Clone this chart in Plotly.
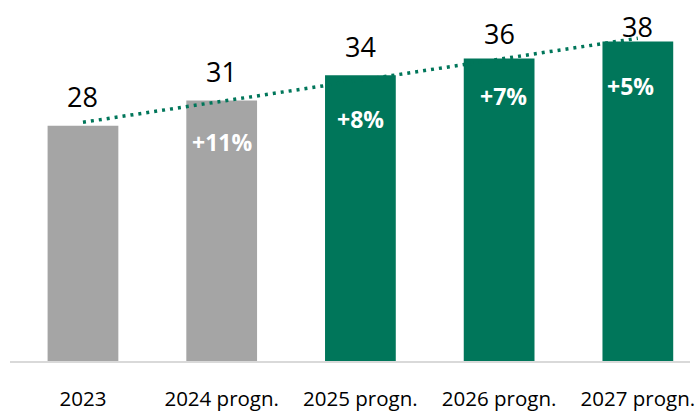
import numpy as np
import plotly.graph_objects as go

categories = ["2023", "2024 progn.", "2025 progn.", "2026 progn.", "2027 progn."]
values = [28, 31, 34, 36, 38]
growth = ["", "+11%", "+8%", "+7%", "+5%"]
is_forecast = [False, False, True, True, True]

GRAY = "#A5A5A5"
GREEN = "#00765A"
FONT = "Open Sans"

# value labels sit above the bars; the last ones were nudged down in the original
label_shift = [29, 29, 29, 25, 15]
growth_shift = [-42, -42, -44, -38, -44]
growth_xshift = [0, 0, 0, 4, -7]

x = list(range(len(categories)))
slope, intercept = np.polyfit(x, values, 1)
trend = [slope * i + intercept for i in x]

fig = go.Figure()
fig.add_trace(go.Bar(
    x=x, y=values, width=0.51,
    marker=dict(color=[GREEN if f else GRAY for f in is_forecast], line_width=0),
    hoverinfo="skip",
))
fig.add_trace(go.Scatter(
    x=x, y=trend, mode="lines",
    line=dict(color=GREEN, width=3.5, dash="3px,5px"),
    hoverinfo="skip",
))

for i, v in enumerate(values):
    fig.add_annotation(
        x=i, y=v, text=str(v), showarrow=False, yshift=label_shift[i],
        font=dict(family=FONT, size=27, color="#000000"),
    )
    if growth[i]:
        fig.add_annotation(
            x=i, y=v, text=f"<b>{growth[i]}</b>", showarrow=False,
            yshift=growth_shift[i], xshift=growth_xshift[i],
            font=dict(family=FONT, size=23, color="#FFFFFF"),
        )

fig.update_layout(
    width=695, height=412,
    margin=dict(l=10, r=0, t=10, b=47),
    plot_bgcolor="white", paper_bgcolor="white",
    showlegend=False, bargap=0.49,
    xaxis=dict(
        tickmode="array", tickvals=x, ticktext=categories,
        range=[-0.526, 4.376], showgrid=False, zeroline=False,
        showline=True, linecolor="#D9D9D9", linewidth=2,
        ticks="", ticklabelstandoff=18, ticklabeloverflow="allow",
        tickfont=dict(family=FONT, size=20.5, color="#000000"),
    ),
    yaxis=dict(range=[0, 41.76], visible=False, showgrid=False, zeroline=False),
)

fig.write_html(
    "out.html",
    config={"displayModeBar": False},
    post_script="document.body.style.margin='0';document.body.style.overflow='hidden';",
)
